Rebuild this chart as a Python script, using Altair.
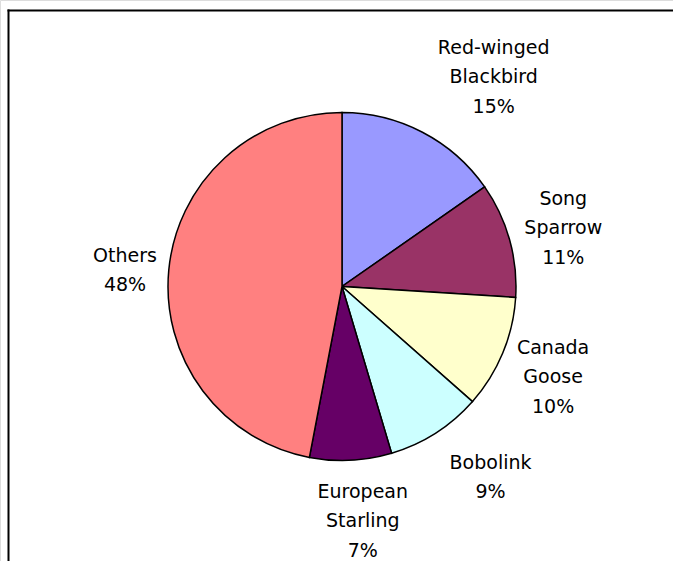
import math
import altair as alt
import pandas as pd

# ---- data ----
species = ["Red-winged Blackbird", "Song Sparrow", "Canada Goose",
           "Bobolink", "European Starling", "Others"]
shares = [15.3, 10.7, 10.5, 8.9, 7.6, 47.0]
pct_labels = ["15%", "11%", "10%", "9%", "7%", "48%"]

# ---- styles ----
colors = ["#9999FF", "#993366", "#FFFFCC", "#CCFFFF", "#660066", "#FF8080"]
CX, CY, R = 342, 286.5, 174
LABEL_R = 235
FONT = "DejaVu Sans"
FSIZE = 19
LINE_H = 29.5
# per-label nudges (style) to mimic Excel's label placement
nudges = {
    "Red-winged Blackbird": (43, -1),
    "Song Sparrow": (-5, 5),
    "Canada Goose": (-6, 1),
    "Bobolink": (22, -7),
    "European Starling": (9, 0),
    "Others": (17, 6),
}

df = pd.DataFrame({
    "species": species,
    "share": shares,
    "pct": pct_labels,
    "order": list(range(len(species))),
})
df["label"] = [s.replace(" ", "\n") + "\n" + p for s, p in zip(species, pct_labels)]
total = float(sum(shares))

base = alt.Chart(df)

pie = base.mark_arc(outerRadius=R, stroke="black", strokeWidth=1.5).encode(
    theta=alt.Theta("share:Q", stack=True),
    color=alt.Color("species:N", scale=alt.Scale(domain=species, range=colors), legend=None),
    order=alt.Order("order:Q"),
    x=alt.value(CX),
    y=alt.value(CY),
)

labels = []
for name, lab in zip(species, df["label"]):
    dx, dy = nudges[name]
    n_lines = lab.count("\n") + 1
    dy = dy - (n_lines - 1) * LINE_H / 2  # centre the multi-line block
    lyr = base.transform_window(
        cum="sum(share)", sort=[alt.SortField("order")]
    ).transform_calculate(
        mid="datum.cum - datum.share / 2"
    ).transform_filter(
        alt.datum.species == name
    ).mark_text(
        radius=LABEL_R, dx=dx, dy=dy, font=FONT, fontSize=FSIZE,
        lineHeight=LINE_H, lineBreak="\n", align="center", baseline="middle",
        color="black",
    ).encode(
        theta=alt.Theta("mid:Q", scale=alt.Scale(domain=[0, total], range=[0, 2 * math.pi])),
        text="label:N",
        x=alt.value(CX),
        y=alt.value(CY),
    )
    labels.append(lyr)

frame_df = pd.DataFrame({"k": [0]})
left_edge = alt.Chart(frame_df).mark_rule(color="black", strokeWidth=2).encode(
    x=alt.value(8.5), y=alt.value(9.5), y2=alt.value(561)
)
top_edge = alt.Chart(frame_df).mark_rule(color="black", strokeWidth=2).encode(
    x=alt.value(7.5), x2=alt.value(673), y=alt.value(10.5)
)

chart = alt.layer(pie, *labels, left_edge, top_edge).resolve_scale(
    theta="independent"
).properties(
    width=673, height=561, autosize=alt.AutoSizeParams(type="none"), padding=0
).configure_view(stroke=None).configure(background="white")

chart.save("out.html", embed_options={"renderer": "svg", "actions": False})
